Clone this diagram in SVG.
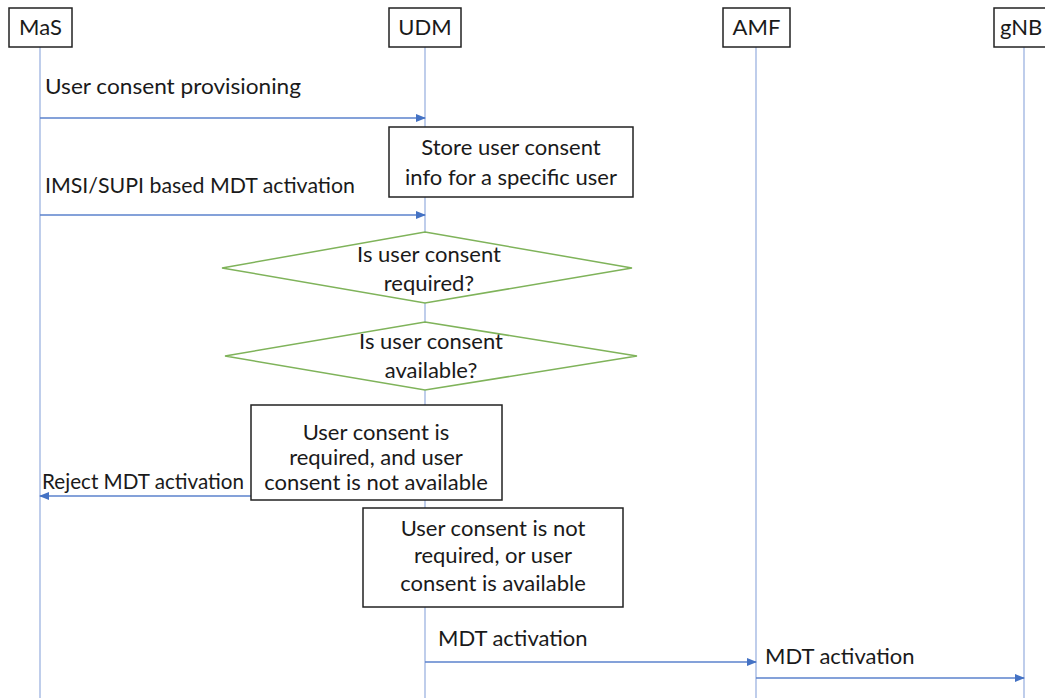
<svg xmlns="http://www.w3.org/2000/svg" width="1045" height="698" viewBox="0 0 1045 698">
<style>
text{font-family:Lato,"Open Sans","Liberation Sans",sans-serif;font-size:22px;fill:#1a1a1a}
.c{text-anchor:middle}
.box{fill:#fff;stroke:#222;stroke-width:1.5}
.life{stroke:#9db3e0;stroke-width:1.3;fill:none}
.msg{stroke:#5b82cc;stroke-width:1.3;fill:none}
.dia{fill:#fff;stroke:#7fb35a;stroke-width:1.5}
</style>
<defs>
<marker id="ah" markerWidth="10" markerHeight="8" refX="9" refY="4" orient="auto" markerUnits="userSpaceOnUse">
<path d="M0,0 L10,4 L0,8 z" fill="#4472c4"/>
</marker>
</defs>
<rect width="1045" height="698" fill="#fff"/>
<g id="lifelines">
<line class="life" x1="40" y1="47" x2="40" y2="698"/>
<line class="life" x1="425" y1="47" x2="425" y2="698"/>
<line class="life" x1="756" y1="47" x2="756" y2="698"/>
<line class="life" x1="1024" y1="47" x2="1024" y2="698"/>
</g>
<g id="connectors">
<line class="msg" x1="40" y1="118" x2="425" y2="118" marker-end="url(#ah)"/>
<line class="msg" x1="40" y1="215" x2="425" y2="215" marker-end="url(#ah)"/>
<line class="msg" x1="251" y1="496" x2="40" y2="496" marker-end="url(#ah)"/>
<line class="msg" x1="425" y1="662" x2="756" y2="662" marker-end="url(#ah)"/>
<line class="msg" x1="756" y1="678" x2="1024" y2="678" marker-end="url(#ah)"/>
<text x="45" y="94" textLength="256" lengthAdjust="spacingAndGlyphs">User consent provisioning</text>
<text x="45" y="193" textLength="310" lengthAdjust="spacingAndGlyphs">IMSI/SUPI based MDT activation</text>
<text x="42" y="489" textLength="202" lengthAdjust="spacingAndGlyphs">Reject MDT activation</text>
<text x="438" y="646">MDT activation</text>
<text x="765" y="664">MDT activation</text>
</g>
<g id="MaS"><rect class="box" x="9" y="8" width="63" height="39"/><text class="c" x="40.5" y="35">MaS</text></g>
<g id="UDM"><rect class="box" x="389" y="8" width="72" height="39"/><text class="c" x="425" y="35">UDM</text></g>
<g id="AMF"><rect class="box" x="723" y="8" width="67" height="39"/><text class="c" x="756.5" y="35">AMF</text></g>
<g id="gNB"><rect class="box" x="994" y="8" width="60" height="39"/><text x="1000" y="35">gNB</text></g>
<g id="store"><rect class="box" x="389" y="127" width="244" height="70"/><text class="c" x="511" y="155">Store user consent</text><text class="c" x="511" y="185">info for a specific user</text></g>
<g id="required"><polygon class="dia" points="425,232 632,268 425,303 222,268"/><text class="c" x="429" y="262">Is user consent</text><text class="c" x="429" y="291">required?</text></g>
<g id="available"><polygon class="dia" points="425,322 637,356 425,390 225,356"/><text class="c" x="431" y="349">Is user consent</text><text class="c" x="431" y="378">available?</text></g>
<g id="reject"><rect class="box" x="251" y="405" width="251" height="95"/><text class="c" x="376" y="440">User consent is</text><text class="c" x="376" y="465">required, and user</text><text class="c" x="376" y="490">consent is not available</text></g>
<g id="allow"><rect class="box" x="363" y="508" width="260" height="99"/><text class="c" x="493" y="536">User consent is not</text><text class="c" x="493" y="563">required, or user</text><text class="c" x="493" y="591">consent is available</text></g>
</svg>
